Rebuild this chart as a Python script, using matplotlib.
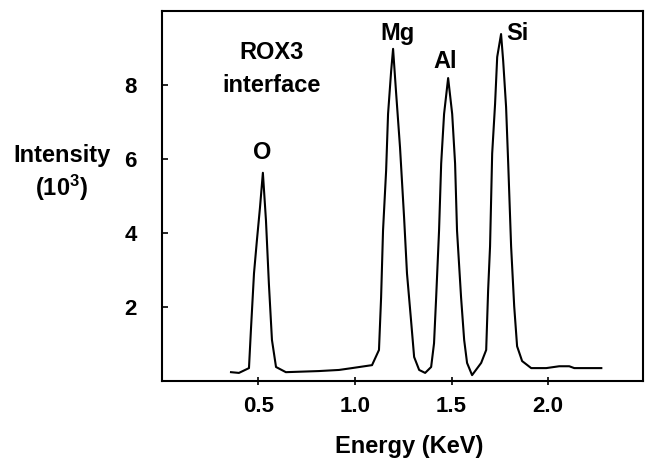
import numpy as np
import matplotlib
matplotlib.use("Agg")
import matplotlib.pyplot as plt

plt.rcParams['font.family'] = ['Liberation Sans', 'DejaVu Sans']
plt.rcParams['font.weight'] = 'bold'
plt.rcParams['mathtext.fontset'] = 'custom'
plt.rcParams['mathtext.rm'] = 'Liberation Sans:bold'
plt.rcParams['mathtext.it'] = 'Liberation Sans:bold'
plt.rcParams['mathtext.bf'] = 'Liberation Sans:bold'

# espectro EDS (energia en keV, intensidad en 10^3)
energia = [0.358, 0.399, 0.451, 0.461, 0.477, 0.492, 0.508, 0.523, 0.539, 0.554,
           0.570, 0.591, 0.642, 0.813, 0.917, 0.984, 1.088, 1.124, 1.135, 1.145,
           1.161, 1.171, 1.187, 1.197, 1.212, 1.233, 1.254, 1.269, 1.290, 1.306,
           1.332, 1.363, 1.394, 1.409, 1.420, 1.435, 1.446, 1.461, 1.482, 1.503,
           1.518, 1.528, 1.549, 1.565, 1.580, 1.606, 1.653, 1.679, 1.689, 1.699,
           1.710, 1.725, 1.736, 1.756, 1.767, 1.782, 1.793, 1.808, 1.824, 1.839,
           1.865, 1.912, 1.990, 2.057, 2.109, 2.135, 2.275]
intensidad = [0.24, 0.22, 0.35, 1.37, 2.91, 3.80, 4.69, 5.63, 4.34, 2.64,
              1.11, 0.38, 0.24, 0.27, 0.30, 0.35, 0.43, 0.84, 2.26, 4.07,
              5.69, 7.22, 8.38, 8.98, 7.84, 6.31, 4.42, 2.91, 1.64, 0.65,
              0.30, 0.22, 0.38, 1.02, 2.26, 4.07, 5.88, 7.22, 8.19, 7.22,
              5.88, 4.07, 2.26, 1.11, 0.49, 0.16, 0.49, 0.84, 2.45, 3.64,
              6.15, 7.49, 8.76, 9.38, 8.65, 7.41, 5.88, 3.64, 2.02, 0.94,
              0.54, 0.35, 0.35, 0.40, 0.40, 0.35, 0.35]

picos = ['O', 'Mg', 'Al', 'Si']
picosX = [0.518, 1.218, 1.466, 1.839]
picosY = [6.17, 9.40, 8.65, 9.40]

xticks = [0.5, 1.0, 1.5, 2.0]
yticks = [2, 4, 6, 8]

fig = plt.figure(figsize=(6.5, 4.63), dpi=100)
ax = fig.add_axes([0.249, 0.177, 0.740, 0.799])
ax.plot(energia, intensidad, color='black', linewidth=1.5)
ax.set_xlim(0, 2.49)
ax.set_ylim(0, 10)

ax.set_xticks(xticks)
ax.set_xticklabels(['%.1f' % t for t in xticks])
ax.set_yticks(yticks)
ax.tick_params(axis='x', direction='inout', length=6, width=1.2, pad=8, labelsize=16)
ax.tick_params(axis='y', direction='in', length=4, width=1.2, pad=18, labelsize=16)
for s in ax.spines.values():
    s.set_linewidth(1.5)

for nombre, px, py in zip(picos, picosX, picosY):
    ax.text(px, py, nombre, ha='center', va='center', fontsize=17, fontweight='bold')

ax.text(0.570, 8.87, 'ROX3', ha='center', va='center', fontsize=17, fontweight='bold')
ax.text(0.570, 7.98, 'interface', ha='center', va='center', fontsize=17, fontweight='bold')

fig.text(62 / 650, 1 - 155 / 463, 'Intensity', ha='center', va='center', fontsize=17, fontweight='bold')
fig.text(61 / 650, 1 - 188 / 463, r'(10$^3$)', ha='center', va='center', fontsize=17, fontweight='bold')
fig.text(409 / 650, 1 - 447 / 463, 'Energy (KeV)', ha='center', va='center', fontsize=17, fontweight='bold')

fig.savefig('out.png', dpi=100)
